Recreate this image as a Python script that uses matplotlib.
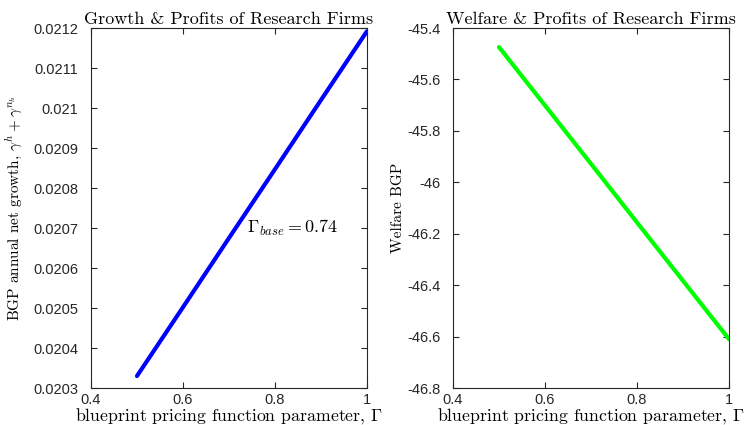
import matplotlib
matplotlib.use("Agg")
import matplotlib.pyplot as plt

plt.rcParams['font.family'] = ['Liberation Sans', 'DejaVu Sans']
plt.rcParams['mathtext.fontset'] = 'cm'

gamma_vals = [0.5, 0.6, 0.7, 0.8, 0.9, 1.0]
growth_vals = [0.02033, 0.020502, 0.020675, 0.020847, 0.02102, 0.021192]
welfare_vals = [-45.474, -45.701, -45.928, -46.156, -46.383, -46.61]

xticks = [0.4, 0.6, 0.8, 1.0]
xticklabels = ['0.4', '0.6', '0.8', '1']
growth_ticks = [0.0203, 0.0204, 0.0205, 0.0206, 0.0207, 0.0208, 0.0209, 0.021, 0.0211, 0.0212]
growth_ticklabels = ['0.0203', '0.0204', '0.0205', '0.0206', '0.0207', '0.0208', '0.0209', '0.021', '0.0211', '0.0212']
welfare_ticks = [-46.8, -46.6, -46.4, -46.2, -46.0, -45.8, -45.6, -45.4]
welfare_ticklabels = ['-46.8', '-46.6', '-46.4', '-46.2', '-46', '-45.8', '-45.6', '-45.4']

SERIF = ['cmr10', 'DejaVu Serif']

fig = plt.figure(figsize=(7.5, 4.25), dpi=100)
ax1 = fig.add_axes([0.1213, 0.087, 0.368, 0.847])
ax2 = fig.add_axes([0.604, 0.087, 0.368, 0.847])

def style(ax):
    ax.tick_params(direction='in', top=True, right=True, labelsize=10.5, colors='#262626', length=4, width=0.8)
    ax.tick_params(axis='y', pad=9)
    ax.tick_params(axis='x', pad=3.5)
    for s in ax.spines.values():
        s.set_color('#262626')
        s.set_linewidth(0.8)

ax1.plot(gamma_vals, growth_vals, color='#0000ff', linewidth=3, solid_capstyle='round')
ax1.set_xlim(0.4, 1.0)
ax1.set_ylim(0.0203, 0.0212)
ax1.set_xticks(xticks, xticklabels)
ax1.set_yticks(growth_ticks, growth_ticklabels)
style(ax1)
ax1.set_title('Growth & Profits of Research Firms', fontsize=13, pad=3, family=SERIF)
ax1.set_xlabel(r'blueprint pricing function parameter, $\Gamma$', fontsize=12.8, family=SERIF)
ax1.xaxis.set_label_coords(0.5, -0.05)
ax1.set_ylabel(r'BGP annual net growth, $\gamma^h+\gamma^{n_h}$', fontsize=11, family=SERIF)
ax1.yaxis.set_label_coords(-0.243, 0.5)
ax1.text(0.74, 0.0207, r'$\Gamma_{base} = 0.74$', fontsize=13, ha='left', va='center')

ax2.plot(gamma_vals, welfare_vals, color='#00ff00', linewidth=3, solid_capstyle='round')
ax2.set_xlim(0.4, 1.0)
ax2.set_ylim(-46.8, -45.4)
ax2.set_xticks(xticks, xticklabels)
ax2.set_yticks(welfare_ticks, welfare_ticklabels)
style(ax2)
ax2.set_title('Welfare & Profits of Research Firms', fontsize=13, pad=3, family=SERIF)
ax2.set_xlabel(r'blueprint pricing function parameter, $\Gamma$', fontsize=12.8, family=SERIF)
ax2.xaxis.set_label_coords(0.5, -0.05)
ax2.set_ylabel('Welfare BGP', fontsize=11, family=SERIF)
ax2.yaxis.set_label_coords(-0.174, 0.5)

fig.savefig('out.png', dpi=100)
